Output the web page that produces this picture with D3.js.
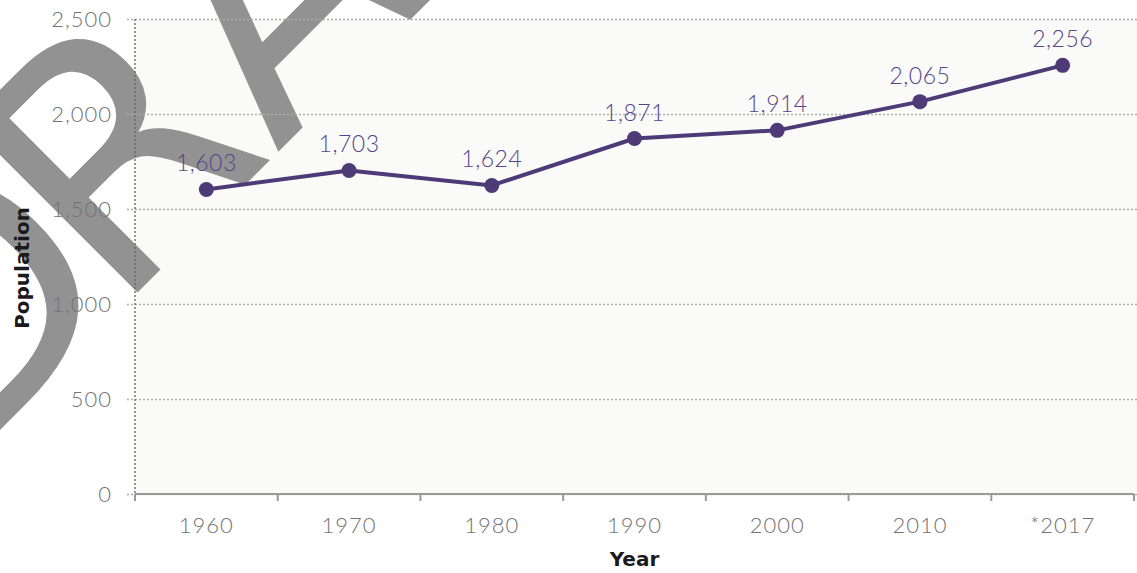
<!DOCTYPE html>
<html>
<head>
<meta charset="utf-8">
<script src="https://cdn.jsdelivr.net/npm/d3@7"></script>
<style>
  html, body { margin: 0; padding: 0; background: #ffffff; }
  svg { display: block; }
</style>
</head>
<body>
<svg id="chart" width="1137" height="573"></svg>
<script>
// ---- data ----
const years = ["1960", "1970", "1980", "1990", "2000", "2010", "*2017"];
const population = [1603, 1703, 1624, 1871, 1914, 2065, 2256];
const labels = ["1,603", "1,703", "1,624", "1,871", "1,914", "2,065", "2,256"];
const yTicks = [0, 500, 1000, 1500, 2000, 2500];
const watermarkLetters = ["D", "R", "A", "F", "T"];

(function () {
// ---- layout ----
const W = 1137, H = 573;
const mLeft = 135, mRight = 1134, mTop = 19, mBottom = 494;
const tickFont = "Lato, 'Open Sans', sans-serif";

const svg = d3.select("#chart");

const x = d3.scaleBand().domain(years).range([mLeft, mRight]).padding(0);
const y = d3.scaleLinear().domain([0, 2500]).range([mBottom, mTop]);

// plot background
svg.append("rect")
  .attr("x", mLeft).attr("y", mTop)
  .attr("width", W - mLeft).attr("height", mBottom - mTop)
  .attr("fill", "#fafaf8");

// watermark (behind everything)
const wmSize = 330;
const wm = svg.append("g")
  .attr("transform", "translate(-65,495) rotate(-45)");
const wmOffsets = [0, 254, 483, 709, 907];
const wmShift = [30, 0, 0, 0, 0];
wm.selectAll("text").data(watermarkLetters).join("text")
  .attr("x", (d, i) => wmOffsets[i] + wmShift[i])
  .attr("y", 0)
  .attr("font-family", "'DejaVu Sans', sans-serif")
  .attr("font-size", wmSize)
  .attr("fill", "#929292")
  .text(d => d);

// y axis with gridlines
const yAxis = d3.axisLeft(y).tickValues(yTicks).tickFormat(d3.format(",")).tickSizeInner(8).tickSizeOuter(0).tickPadding(15);
const gy = svg.append("g").attr("transform", `translate(${mLeft},0)`).call(yAxis);
gy.select(".domain").remove();
gy.selectAll(".tick line")
  .attr("x1", -8).attr("x2", W - mLeft)
  .attr("stroke", "#adadad").attr("stroke-width", 1.4)
  .attr("stroke-dasharray", "2,2");
gy.selectAll(".tick text")
  .attr("font-family", tickFont).attr("font-weight", 300)
  .attr("font-size", 22).attr("letter-spacing", 1)
  .attr("fill", "#737373");
// dotted vertical axis line
svg.append("line")
  .attr("x1", mLeft).attr("x2", mLeft).attr("y1", mTop).attr("y2", mBottom)
  .attr("stroke", "#6a6a6a").attr("stroke-width", 1.4)
  .attr("stroke-dasharray", "2,2");

// x axis
const xAxis = d3.axisBottom(x).tickSize(0).tickPadding(0);
const gx = svg.append("g").attr("transform", `translate(0,${mBottom})`).call(xAxis);
gx.select(".domain").remove();
gx.selectAll(".tick text")
  .attr("y", 39).attr("dy", 0)
  .attr("font-family", tickFont).attr("font-weight", 300)
  .attr("font-size", 22).attr("letter-spacing", 1)
  .attr("fill", "#737373");
svg.append("line")
  .attr("x1", mLeft).attr("x2", mRight).attr("y1", mBottom).attr("y2", mBottom)
  .attr("stroke", "#9a9a9a").attr("stroke-width", 2);
const boundaries = years.map(d => x(d)).concat([x.range()[1]]);
svg.selectAll(".xbound").data(boundaries).join("line")
  .attr("class", "xbound")
  .attr("x1", d => d).attr("x2", d => d)
  .attr("y1", mBottom).attr("y2", mBottom + 7)
  .attr("stroke", "#9a9a9a").attr("stroke-width", 2);

// line
const cx = d => x(d) + x.bandwidth() / 2;
const data = years.map((yr, i) => ({ yr, v: population[i], lab: labels[i] }));
svg.append("path")
  .datum(data)
  .attr("fill", "none")
  .attr("stroke", "#4f3a78")
  .attr("stroke-width", 4)
  .attr("stroke-linejoin", "round")
  .attr("d", d3.line().x(d => cx(d.yr)).y(d => y(d.v)));
svg.selectAll(".pt").data(data).join("circle")
  .attr("class", "pt")
  .attr("cx", d => cx(d.yr)).attr("cy", d => y(d.v))
  .attr("r", 7.5).attr("fill", "#4f3a78");
svg.selectAll(".lab").data(data).join("text")
  .attr("class", "lab")
  .attr("x", d => cx(d.yr)).attr("y", d => y(d.v) - 18)
  .attr("text-anchor", "middle")
  .attr("font-family", tickFont).attr("font-weight", 300)
  .attr("font-size", 23).attr("letter-spacing", 0.5)
  .attr("fill", "#56458a")
  .text(d => d.lab);

// axis titles
svg.append("text")
  .attr("transform", "translate(29,268) rotate(-90)")
  .attr("text-anchor", "middle")
  .attr("font-family", "'DejaVu Sans', sans-serif").attr("font-weight", "bold")
  .attr("font-size", 20).attr("fill", "#1a1a1a")
  .text("Population");
svg.append("text")
  .attr("x", (mLeft + mRight) / 2).attr("y", 566)
  .attr("text-anchor", "middle")
  .attr("font-family", "'DejaVu Sans', sans-serif").attr("font-weight", "bold")
  .attr("font-size", 20).attr("fill", "#1a1a1a")
  .text("Year");
})();
</script>
</body>
</html>
